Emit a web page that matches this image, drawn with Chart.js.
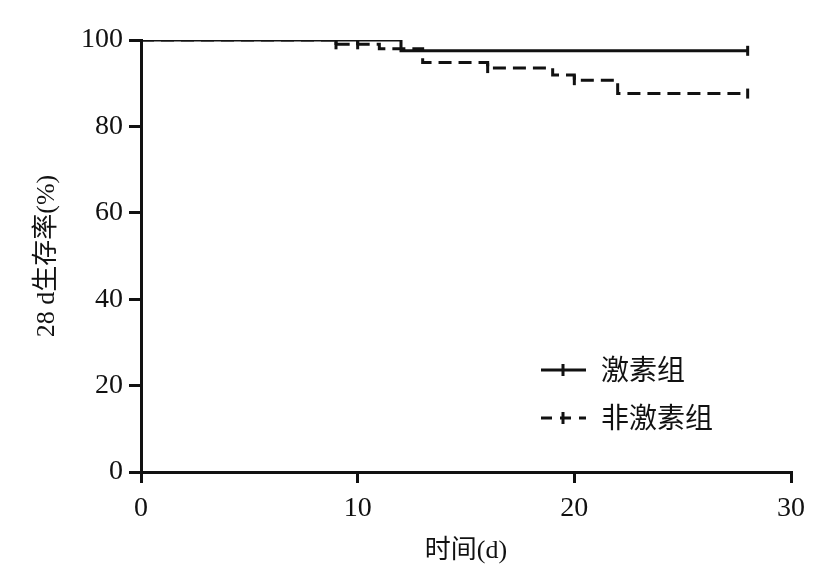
<!DOCTYPE html>
<html>
<head>
<meta charset="utf-8">
<script src="https://cdn.jsdelivr.net/npm/chart.js@4/dist/chart.umd.min.js"></script>
<style>
  html, body { margin: 0; padding: 0; background: #fff; }
  #wrap { width: 827px; height: 588px; }
</style>
</head>
<body>
<div id="wrap"><canvas id="survival" width="827" height="588"></canvas></div>
<script>
// survival curves (days, %)
const hormoneDays = [0, 12, 28];
const hormoneSurv = [100, 97.5, 97.5];
const hormoneCensorDays = [9, 10, 28];
const hormoneCensorSurv = [100, 100, 97.5];

const nonHormoneDays = [0, 9, 11, 13, 16, 19, 20, 22, 28];
const nonHormoneSurv = [100, 99.0, 98.0, 94.8, 93.5, 91.9, 90.7, 87.6, 87.6];
const nonHormoneCensorDays = [9, 10, 16, 20, 28];
const nonHormoneCensorSurv = [99.0, 99.0, 93.5, 90.7, 87.6];

const seriesNames = ['激素组', '非激素组'];
const xTicks = [0, 10, 20, 30];
const yTicks = [0, 20, 40, 60, 80, 100];

const ink = '#111';
const numFont = '"Liberation Serif", "Noto Sans CJK SC", serif';
const cjkFont = '"Noto Sans CJK SC", "Liberation Serif", sans-serif';

function toPoints(xs, ys) {
	return xs.map(function(x, i) { return { x: x, y: ys[i] }; });
}

const legendInside = {
	id: 'legendInside',
	afterDraw: function(chart) {
		const ctx = chart.ctx;
		ctx.save();
		ctx.strokeStyle = ink;
		ctx.fillStyle = ink;
		ctx.lineWidth = 3;
		// solid entry
		ctx.beginPath();
		ctx.moveTo(541, 370); ctx.lineTo(586, 370);
		ctx.moveTo(563, 364); ctx.lineTo(563, 376);
		ctx.stroke();
		// dashed entry
		ctx.setLineDash([11, 8]);
		ctx.beginPath();
		ctx.moveTo(541, 418); ctx.lineTo(586, 418);
		ctx.stroke();
		ctx.setLineDash([]);
		ctx.beginPath();
		ctx.moveTo(563, 412); ctx.lineTo(563, 424);
		ctx.stroke();
		ctx.font = '28px ' + cjkFont;
		ctx.textBaseline = 'middle';
		ctx.textAlign = 'left';
		ctx.fillText(seriesNames[0], 601, 369);
		ctx.fillText(seriesNames[1], 601, 417);
		ctx.restore();
	}
};

const ctx = document.getElementById('survival').getContext('2d');
const chart = new Chart(ctx, {
	type: 'line',
	data: {
		datasets: [{
			label: seriesNames[0],
			data: toPoints(hormoneDays, hormoneSurv),
			stepped: true,
			borderColor: ink,
			borderWidth: 3,
			pointRadius: 0,
			fill: false
		}, {
			label: seriesNames[1],
			data: toPoints(nonHormoneDays, nonHormoneSurv),
			stepped: true,
			borderColor: ink,
			borderWidth: 3,
			borderDash: [13, 7],
			pointRadius: 0,
			fill: false
		}, {
			label: seriesNames[0] + ' censored',
			data: toPoints(hormoneCensorDays, hormoneCensorSurv),
			showLine: false,
			pointStyle: 'line',
			rotation: 90,
			pointRadius: 5,
			pointBorderWidth: 3,
			pointBorderColor: ink
		}, {
			label: seriesNames[1] + ' censored',
			data: toPoints(nonHormoneCensorDays, nonHormoneCensorSurv),
			showLine: false,
			pointStyle: 'line',
			rotation: 90,
			pointRadius: 5,
			pointBorderWidth: 3,
			pointBorderColor: ink
		}]
	},
	options: {
		responsive: false,
		animation: false,
		layout: { padding: { top: 40, right: 36, left: 28, bottom: 10 } },
		plugins: {
			legend: { display: false },
			tooltip: { enabled: false }
		},
		scales: {
			x: {
				type: 'linear',
				min: 0,
				max: 30,
				afterBuildTicks: function(s) { s.ticks = xTicks.map(function(v) { return { value: v }; }); },
				grid: { drawOnChartArea: false, drawTicks: true, tickLength: 11, lineWidth: 3, color: ink },
				border: { display: true, width: 3, color: ink },
				ticks: { color: ink, padding: 9, font: { family: numFont, size: 28 } },
				title: { display: true, text: '时间(d)', color: ink, padding: { top: 4, bottom: 11 }, font: { family: numFont, size: 26 } },
				afterFit: function(s) { s.height = 106; }
			},
			y: {
				min: 0,
				max: 100,
				afterBuildTicks: function(s) { s.ticks = yTicks.map(function(v) { return { value: v }; }); },
				grid: { drawOnChartArea: false, drawTicks: true, tickLength: 12, lineWidth: 3, color: ink },
				border: { display: true, width: 3, color: ink },
				ticks: { color: ink, padding: 6, font: { family: numFont, size: 28 } },
				title: { display: true, text: '28 d生存率(%)', color: ink, padding: { bottom: 4 }, font: { family: numFont, size: 26 } },
				afterFit: function(s) { s.width = 113; }
			}
		}
	},
	plugins: [legendInside]
});
</script>
</body>
</html>
